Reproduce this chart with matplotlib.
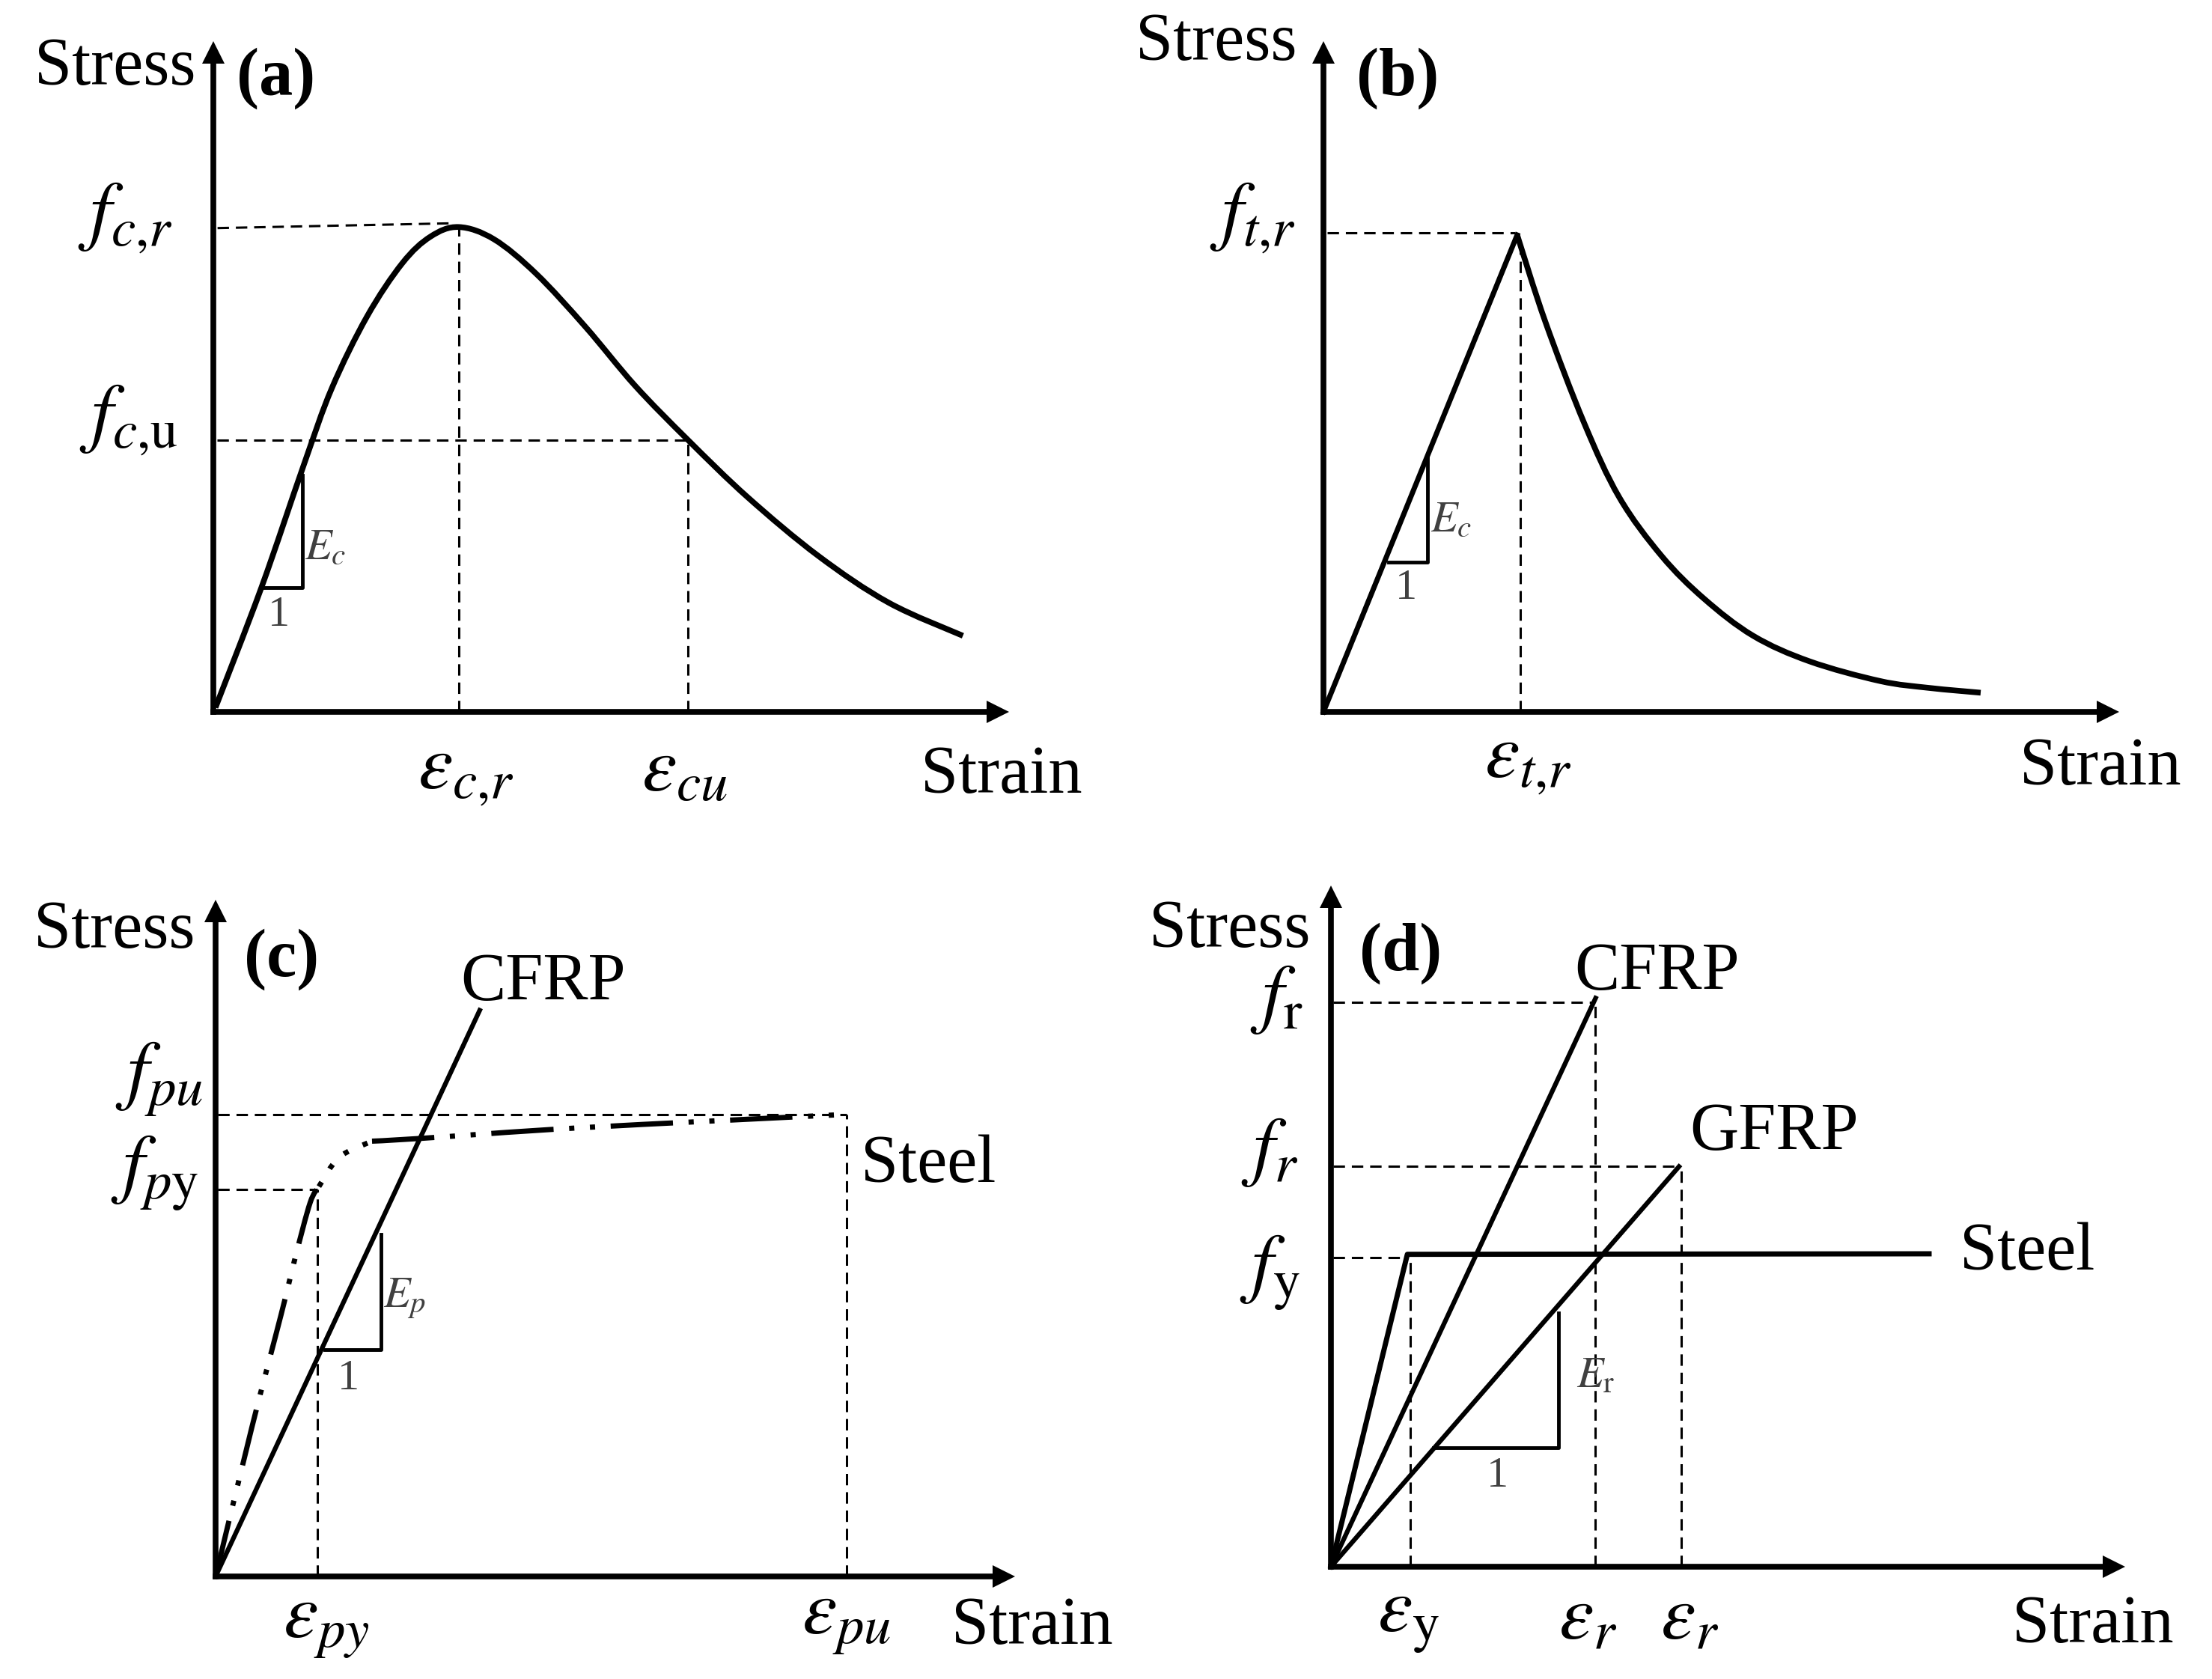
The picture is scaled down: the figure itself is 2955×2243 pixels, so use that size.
import matplotlib
matplotlib.use('Agg')
import matplotlib.pyplot as plt
from matplotlib.patches import PathPatch
from matplotlib.path import Path

plt.rcParams['font.family'] = ['Liberation Serif', 'DejaVu Serif']
plt.rcParams['mathtext.fontset'] = 'stix'

WIDTH, HEIGHT = 2955, 2243

# values, arbitrary units (the sketch has no scale)
# panel a, concrete in compression
a_strain = [3, 68, 128, 168, 218, 268, 308, 348, 398, 458, 528, 598, 673, 758, 858, 958, 1063]
a_stress = [8, 233, 463, 608, 743, 843, 893, 911, 888, 823, 723, 613, 511, 403, 293, 205, 143]
a_peak = (348, 911)
a_ult = (673, 511)

# panel b, concrete in tension
b_rise_strain = [0, 275]
b_rise_stress = [0, 896]
b_fall_strain = [275, 315, 370, 420, 480, 540, 610, 690, 790, 860, 933]
b_fall_stress = [896, 733, 543, 403, 293, 213, 143, 95, 58, 45, 36]
b_peak = (280, 900)

# panel c, prestressing steel and CFRP
c_cfrp_strain = [0, 363]
c_cfrp_stress = [0, 1060]
c_rise_strain = [0, 50, 90, 110, 130, 142]
c_rise_stress = [0, 280, 490, 600, 700, 730]
c_knee_strain = [142, 170, 215]
c_knee_stress = [730, 785, 815]
c_plateau_strain = [215, 280, 500, 865]
c_plateau_stress = [815, 820, 840, 865]
c_yield = (140, 725)
c_ult = (867, 865)

# panel d, bars
d_steel_strain = [0, 110, 861]
d_steel_stress = [0, 584, 585]
d_cfrp_strain = [0, 381]
d_cfrp_stress = [0, 1063]
d_gfrp_strain = [0, 501]
d_gfrp_stress = [0, 748]
d_cfrp_end = (380, 1055)
d_gfrp_end = (504, 748)
d_yield = (114, 578)


def make_panel(fig, x0, y0, xmax, ymax, ux, uy):
    w, h = xmax * ux, ymax * uy
    ax = fig.add_axes([x0 / WIDTH, 1 - y0 / HEIGHT, w / WIDTH, h / HEIGHT])
    ax.set_xlim(0, xmax)
    ax.set_ylim(0, ymax)
    ax.patch.set_alpha(0)
    ax.set_xticks([])
    ax.set_yticks([])
    ax.spines['top'].set_visible(False)
    ax.spines['right'].set_visible(False)
    ax.spines['left'].set_linewidth(5.5)
    ax.spines['bottom'].set_linewidth(5.5)
    ax.plot(1, 0, '>k', ms=22, mew=0, transform=ax.transAxes, clip_on=False)
    ax.plot(0, 1, '^k', ms=22, mew=0, transform=ax.transAxes, clip_on=False)
    return ax


def solid(ax, x, y, lw=5):
    ax.plot(x, y, color='black', lw=lw, clip_on=False)


def smooth(ax, x, y, lw=5.5, ls='-'):
    # bezier through the read points so the sketch curve stays round
    pts = list(zip(x, y))
    verts = [pts[0]]
    codes = [Path.MOVETO]
    for i in range(len(pts) - 1):
        p0 = pts[max(i - 1, 0)]
        p1 = pts[i]
        p2 = pts[i + 1]
        p3 = pts[min(i + 2, len(pts) - 1)]
        verts.append((p1[0] + (p2[0] - p0[0]) / 6, p1[1] + (p2[1] - p0[1]) / 6))
        verts.append((p2[0] - (p3[0] - p1[0]) / 6, p2[1] - (p3[1] - p1[1]) / 6))
        verts.append(p2)
        codes += [Path.CURVE4, Path.CURVE4, Path.CURVE4]
    ax.add_patch(PathPatch(Path(verts, codes), fc='none', ec='black', lw=lw, ls=ls, clip_on=False))


def dashed(ax, x, y):
    ax.plot(x, y, color='black', lw=2.2, ls=(0, (5, 3)), clip_on=False)


def slope(ax, x1, x2, y1, y2):
    ax.plot([x1, x2, x2], [y1, y1, y2], color='black', lw=3.5, clip_on=False)


def words(ax, x, y, s, ha='left', size=65, **kw):
    ax.text(x, y, s, ha=ha, va='center', fontsize=size, clip_on=False, **kw)


def small(ax, x, y, s, ha='left'):
    ax.text(x, y, s, ha=ha, va='center', fontsize=42, color='#404040', clip_on=False)


def mathlabel(ax, x, y, s, ha='right'):
    ax.text(x, y, s, ha=ha, va='center', fontsize=75, clip_on=False)


fig = plt.figure(figsize=(WIDTH / 100, HEIGHT / 100), dpi=100)

# (a)
ax = make_panel(fig, 285, 951, 1112, 1239, 0.942, 0.711)
smooth(ax, a_strain, a_stress)
dashed(ax, [6, 338], [909, 918])
dashed(ax, [a_peak[0], a_peak[0]], [0, a_peak[1]])
dashed(ax, [5, a_ult[0]], [a_ult[1], a_ult[1]])
dashed(ax, [a_ult[0], a_ult[0]], [0, a_ult[1]])
slope(ax, 68, 126, 233, 445)
small(ax, 130, 307, r'$E_c$')
small(ax, 93, 182, '1', ha='center')
mathlabel(ax, -57, 928, r'$f_{c{,}r}$')
mathlabel(ax, -50, 548, r'$f_{c{,}\mathrm{u}}$')
mathlabel(ax, 358, -114, r'$\varepsilon_{c{,}r}$', ha='center')
mathlabel(ax, 668, -114, r'$\varepsilon_{cu}$', ha='center')
words(ax, 1232, -120, 'Strain', ha='right')
words(ax, -25, 1210, 'Stress', ha='right')
words(ax, 33, 1190, '(a)', fontweight='bold')

# (b)
ax = make_panel(fig, 1768, 951, 1114, 1239, 0.941, 0.711)
solid(ax, b_rise_strain, b_rise_stress)
smooth(ax, b_fall_strain, b_fall_stress)
dashed(ax, [5, 272], [b_peak[1], b_peak[1]])
dashed(ax, [b_peak[0], b_peak[0]], [0, 890])
slope(ax, 92, 148, 281, 483)
small(ax, 152, 358, r'$E_c$')
small(ax, 117, 232, '1', ha='center')
mathlabel(ax, -40, 928, r'$f_{t{,}r}$')
mathlabel(ax, 290, -93, r'$\varepsilon_{t{,}r}$', ha='center')
words(ax, 1217, -105, 'Strain', ha='right')
words(ax, -38, 1257, 'Stress', ha='right')
words(ax, 47, 1190, '(b)', fontweight='bold')

# (c)
ax = make_panel(fig, 288, 2106, 1083, 1246, 0.972, 0.7135)
solid(ax, c_cfrp_strain, c_cfrp_stress, lw=4.5)
smooth(ax, c_rise_strain, c_rise_stress, lw=5, ls=(0, (11, 3, 1, 3, 1, 3)))
smooth(ax, c_knee_strain, c_knee_stress, lw=5, ls=(0, (1, 3)))
smooth(ax, c_plateau_strain, c_plateau_stress, lw=5, ls=(0, (12, 3, 1, 3, 1, 3)))
dashed(ax, [3, c_ult[0]], [c_ult[1], c_ult[1]])
dashed(ax, [c_ult[0], c_ult[0]], [0, c_ult[1]])
dashed(ax, [3, c_yield[0]], [c_yield[1], c_yield[1]])
dashed(ax, [c_yield[0], c_yield[0]], [0, c_yield[1]])
slope(ax, 150, 227, 425, 640)
small(ax, 230, 520, r'$E_p$')
small(ax, 183, 370, '1', ha='center')
mathlabel(ax, -17, 930, r'$f_{pu}$')
mathlabel(ax, -23, 755, r'$f_{p\mathrm{y}}$')
mathlabel(ax, 152, -93, r'$\varepsilon_{py}$', ha='center')
mathlabel(ax, 867, -86, r'$\varepsilon_{pu}$', ha='center')
words(ax, 1233, -95, 'Strain', ha='right')
words(ax, -28, 1208, 'Stress', ha='right')
words(ax, 39, 1155, '(c)', fontweight='bold')
words(ax, 337, 1110, 'CFRP')
words(ax, 887, 770, 'Steel')

# (d)
ax = make_panel(fig, 1778, 2093, 1127, 1252, 0.928, 0.7146)
solid(ax, d_steel_strain, d_steel_stress)
solid(ax, d_cfrp_strain, d_cfrp_stress, lw=4.5)
solid(ax, d_gfrp_strain, d_gfrp_stress, lw=4.5)
dashed(ax, [3, 378], [d_cfrp_end[1], d_cfrp_end[1]])
dashed(ax, [d_cfrp_end[0], d_cfrp_end[0]], [0, d_cfrp_end[1]])
dashed(ax, [3, 498], [d_gfrp_end[1], d_gfrp_end[1]])
dashed(ax, [d_gfrp_end[0], d_gfrp_end[0]], [0, d_gfrp_end[1]])
dashed(ax, [3, 108], [d_yield[1], d_yield[1]])
dashed(ax, [d_yield[0], d_yield[0]], [0, d_yield[1]])
slope(ax, 148, 328, 223, 475)
small(ax, 353, 355, r'$E_\mathrm{r}$')
small(ax, 240, 170, '1', ha='center')
mathlabel(ax, -40, 1060, r'$f_\mathrm{r}$')
mathlabel(ax, -47, 775, r'$f_r$')
mathlabel(ax, -44, 550, r'$f_\mathrm{y}$')
mathlabel(ax, 111, -100, r'$\varepsilon_\mathrm{y}$', ha='center')
mathlabel(ax, 370, -100, r'$\varepsilon_r$', ha='center')
mathlabel(ax, 516, -100, r'$\varepsilon_r$', ha='center')
words(ax, 1213, -110, 'Strain', ha='right')
words(ax, -30, 1190, 'Stress', ha='right')
words(ax, 41, 1147, '(d)', fontweight='bold')
words(ax, 350, 1110, 'CFRP')
words(ax, 516, 810, 'GFRP')
words(ax, 905, 586, 'Steel')

plt.savefig('out.png', dpi=100)
